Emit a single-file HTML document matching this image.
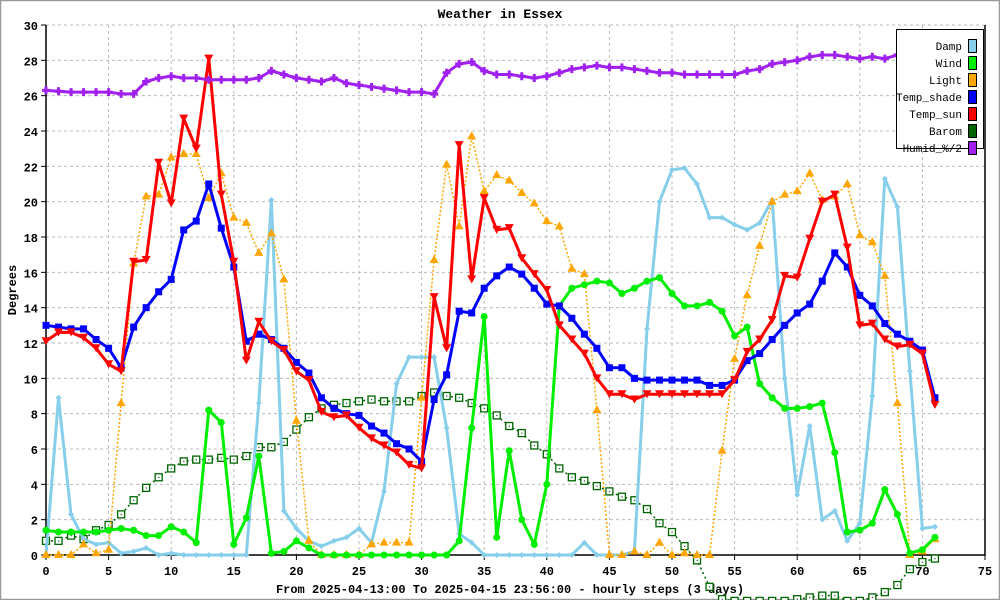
<!DOCTYPE html>
<html><head><meta charset="utf-8"><style>
body{margin:0;background:#fff}
svg{display:block;font-family:"Liberation Mono",monospace}
</style></head><body>
<svg id="chart" width="1000" height="600" viewBox="0 0 1000 600" xmlns="http://www.w3.org/2000/svg">
<rect x="0.5" y="0.5" width="999" height="599" fill="#fff" stroke="#999" stroke-width="1.5"/>
<text x="500" y="18" text-anchor="middle" font-size="13" font-weight="bold">Weather in Essex</text>
<text x="510" y="593" text-anchor="middle" font-size="12" font-weight="bold">From 2025-04-13:00 To 2025-04-15 23:56:00 - hourly steps (3 days)</text>
<text transform="translate(16,290) rotate(-90)" text-anchor="middle" font-size="12" font-weight="bold">Degrees</text>
<g id="grid"></g><g id="axes"></g><g id="series"></g>
<g id="legend"></g>
</svg>
<script>
const xTicks=[0,5,10,15,20,25,30,35,40,45,50,55,60,65,70,75];
const yTicks=[0,2,4,6,8,10,12,14,16,18,20,22,24,26,28,30];
const seriesNames=["Damp","Wind","Light","Temp_shade","Temp_sun","Barom","Humid_%/2"];
const seriesColors=["#87ceeb","#00ee00","#ffa500","#0000ff","#ff0000","#006400","#a020f0"];
const damp=[0,8.9,2.3,0.9,0.6,0.7,0.1,0.2,0.4,0,0.1,0,0,0,0,0,0,8.6,20.1,2.5,1.5,0.8,0.5,0.8,1.0,1.5,0.7,3.6,9.7,11.2,11.2,11.2,7.2,1.2,0.7,0,0,0,0,0,0,0,0,0.7,0,0,0,0.2,12.8,20.0,21.8,21.9,21.0,19.1,19.1,18.7,18.4,18.8,20.1,10.0,3.4,7.3,2.0,2.5,0.8,1.8,9.0,21.3,19.7,10.4,1.5,1.6];
const wind=[1.4,1.3,1.3,1.3,1.3,1.4,1.5,1.4,1.1,1.1,1.6,1.3,0.7,8.2,7.5,0.6,2.1,5.6,0.1,0.2,0.8,0.4,0,0,0,0,0,0,0,0,0,0,0,0.8,7.2,13.5,1.0,5.9,2.0,0.6,4.0,14.1,15.1,15.3,15.5,15.4,14.8,15.1,15.5,15.7,14.8,14.1,14.1,14.3,13.8,12.4,12.9,9.7,8.9,8.3,8.3,8.4,8.6,5.8,1.3,1.4,1.8,3.7,2.3,0.1,0.3,1.0];
const light=[0,0,0,0.6,0.1,0.3,8.6,16.5,20.3,20.4,22.5,22.7,22.7,20.2,21.6,19.1,18.8,17.1,18.2,15.6,7.6,0.8,0,0,0,0,0.6,0.7,0.7,0.7,8.9,16.7,22.1,18.6,23.7,20.6,21.5,21.2,20.5,19.9,18.9,18.6,16.2,15.9,8.2,0,0,0.2,0,0.7,0,0.1,0,0,5.9,11.1,14.7,17.5,20.0,20.4,20.6,21.6,20.1,20.3,21.0,18.1,17.7,15.8,8.6,0,0.2,0.9];
const tempShade=[13.0,12.9,12.8,12.8,12.2,11.7,10.6,12.9,14.0,14.9,15.6,18.4,18.9,21.0,18.5,16.3,12.1,12.5,12.2,11.7,10.9,10.3,8.9,8.3,8.0,7.9,7.3,6.9,6.3,6.0,5.3,8.8,10.2,13.8,13.7,15.1,15.8,16.3,15.9,15.1,14.2,14.1,13.4,12.5,11.7,10.6,10.6,10.0,9.9,9.9,9.9,9.9,9.9,9.6,9.6,9.9,11.0,11.4,12.2,13.0,13.7,14.2,15.5,17.1,16.3,14.7,14.1,13.1,12.5,12.1,11.6,8.9];
const tempSun=[12.1,12.6,12.6,12.3,11.7,10.8,10.4,16.6,16.7,22.2,19.9,24.7,23.0,28.1,20.4,16.6,11.0,13.2,12.1,11.6,10.4,9.9,8.1,7.8,7.9,7.2,6.6,6.2,5.8,5.1,4.9,14.6,11.7,23.2,15.6,20.2,18.4,18.5,16.8,15.9,15.0,13.0,12.2,11.4,10.0,9.1,9.1,8.8,9.1,9.1,9.1,9.1,9.1,9.1,9.1,9.9,11.5,12.2,13.3,15.8,15.7,17.9,20.0,20.4,17.4,13.0,13.1,12.2,11.8,11.9,11.4,8.5];
const barom=[0.8,0.8,1.1,0.9,1.4,1.7,2.3,3.1,3.8,4.4,4.9,5.3,5.4,5.4,5.5,5.4,5.6,6.1,6.1,6.4,7.1,7.8,8.3,8.5,8.6,8.7,8.8,8.7,8.7,8.7,9.0,9.2,9.0,8.9,8.6,8.3,7.9,7.3,6.9,6.2,5.7,4.9,4.4,4.2,3.9,3.6,3.3,3.1,2.6,1.8,1.3,0.5,-0.3,-1.8,-2.5,-2.6,-2.6,-2.6,-2.6,-2.6,-2.5,-2.4,-2.3,-2.3,-2.6,-2.6,-2.4,-2.1,-1.7,-0.8,-0.4,-0.2];
const humid=[26.3,26.25,26.2,26.2,26.2,26.2,26.1,26.1,26.8,27.0,27.1,27.0,27.0,26.9,26.9,26.9,26.9,27.0,27.4,27.2,27.0,26.9,26.8,27.0,26.7,26.6,26.5,26.4,26.3,26.2,26.2,26.1,27.3,27.8,27.9,27.4,27.2,27.2,27.1,27.0,27.1,27.3,27.5,27.6,27.7,27.6,27.6,27.5,27.4,27.3,27.3,27.2,27.2,27.2,27.2,27.2,27.4,27.5,27.8,27.9,28.0,28.2,28.3,28.3,28.2,28.1,28.2,28.1,28.3,28.3,28.4,28.4];

const NS="http://www.w3.org/2000/svg";
const X0=46,X1=985,Y0=555,Y1=25;
function xs(v){return X0+(X1-X0)*v/75;}
function ys(v){return Y0-(Y0-Y1)*v/30;}
function mk(tag,attrs,parent){const e=document.createElementNS(NS,tag);for(const k in attrs)e.setAttribute(k,attrs[k]);parent.appendChild(e);return e;}
const grid=document.getElementById('grid'),axes=document.getElementById('axes'),ser=document.getElementById('series'),leg=document.getElementById('legend');
xTicks.forEach(t=>{
  if(t>0&&t<75){const l=mk('line',{x1:xs(t),x2:xs(t),y1:Y1,y2:Y0,stroke:'#bbb','stroke-dasharray':'3,3'},grid);
  
  }
  const tk=mk('line',{x1:xs(t),x2:xs(t),y1:Y0,y2:Y0+5,stroke:'#000'},axes);
  
  
  const tx=mk('text',{x:xs(t),y:Y0+20,'text-anchor':'middle','font-size':12,'font-weight':'bold'},axes);
  tx.textContent=t;
  
  
});
yTicks.forEach(t=>{
  if(t>0){const l=mk('line',{x1:X0,x2:X1,y1:ys(t),y2:ys(t),stroke:'#bbb','stroke-dasharray':'3,3'},grid);
  
  }
  const tk=mk('line',{x1:X0-5,x2:X0,y1:ys(t),y2:ys(t),stroke:'#000'},axes);
  
  
  const tx=mk('text',{x:X0-8,y:ys(t)+5,'text-anchor':'end','font-size':12,'font-weight':'bold'},axes);
  tx.textContent=t;
  
  
});
const ax=mk('path',{d:`M${X0},${Y1}V${Y0}H${X1}V${Y1}`,fill:'none',stroke:'#000','stroke-width':1.5},axes);



function marker(type,x,y,c,g){
  if(type==='sq') return mk('rect',{x:x-3.5,y:y-3.5,width:7,height:7,fill:c},g);
  if(type==='tri') return mk('path',{d:`M${x},${y-5}L${x+4.5},${y+3}L${x-4.5},${y+3}Z`,fill:c},g);
  if(type==='itri') return mk('path',{d:`M${x-4.5},${y-4}L${x+4.5},${y-4}L${x},${y+4}Z`,fill:c},g);
  if(type==='circ') return mk('circle',{cx:x,cy:y,r:3.5,fill:c},g);
  if(type==='dia') return mk('path',{d:`M${x},${y-3}L${x+3},${y}L${x},${y+3}L${x-3},${y}Z`,fill:c},g);
  if(type==='osq'){const r=mk('rect',{x:x-3.5,y:y-3.5,width:7,height:7,fill:'#fff',stroke:c,'stroke-width':1.3},g);mk('rect',{x:x-0.5,y:y-0.5,width:1.2,height:1.2,fill:c},g);return r;}
  if(type==='plus') return mk('path',{d:`M${x-4},${y}H${x+4}M${x},${y-4}V${y+4}`,stroke:c,'stroke-width':3},g);
}
function drawSeries(name,data,color,width,dash,mtype){
  const g=mk('g',{},ser);
  
  
  const d=data.map((v,i)=>(i?'L':'M')+xs(i).toFixed(1)+','+ys(v).toFixed(1)).join('');
  const p=mk('path',{d:d,fill:'none',stroke:color,'stroke-width':width,'stroke-linejoin':'round'},g);
  if(dash)p.setAttribute('stroke-dasharray',dash);
  
  
  data.forEach((v,i)=>{const m=marker(mtype,xs(i),ys(v),color,g);
    
    });
}
drawSeries('barom',barom,seriesColors[5],1.5,'2,3','osq');
drawSeries('damp',damp,seriesColors[0],3,null,'dia');
drawSeries('light',light,seriesColors[2],1.5,'2,2','tri');
drawSeries('wind',wind,seriesColors[1],3,null,'circ');
drawSeries('temp-shade',tempShade,seriesColors[3],3,null,'sq');
drawSeries('temp-sun',tempSun,seriesColors[4],3,null,'itri');
drawSeries('humid',humid,seriesColors[6],3,null,'plus');

const lb=mk('rect',{x:896.5,y:29.5,width:87,height:119,fill:'#fff',stroke:'#000','stroke-width':1},leg);


seriesNames.forEach((n,i)=>{
  const y=46+i*17;
  const t=mk('text',{x:962,y:y+4,'text-anchor':'end','font-size':11},leg);
  t.textContent=n;
  
  
  const r=mk('rect',{x:968.5,y:y-6.5,width:8,height:13,fill:seriesColors[i],stroke:'#000'},leg);
  
  
});
</script>
</body></html>
